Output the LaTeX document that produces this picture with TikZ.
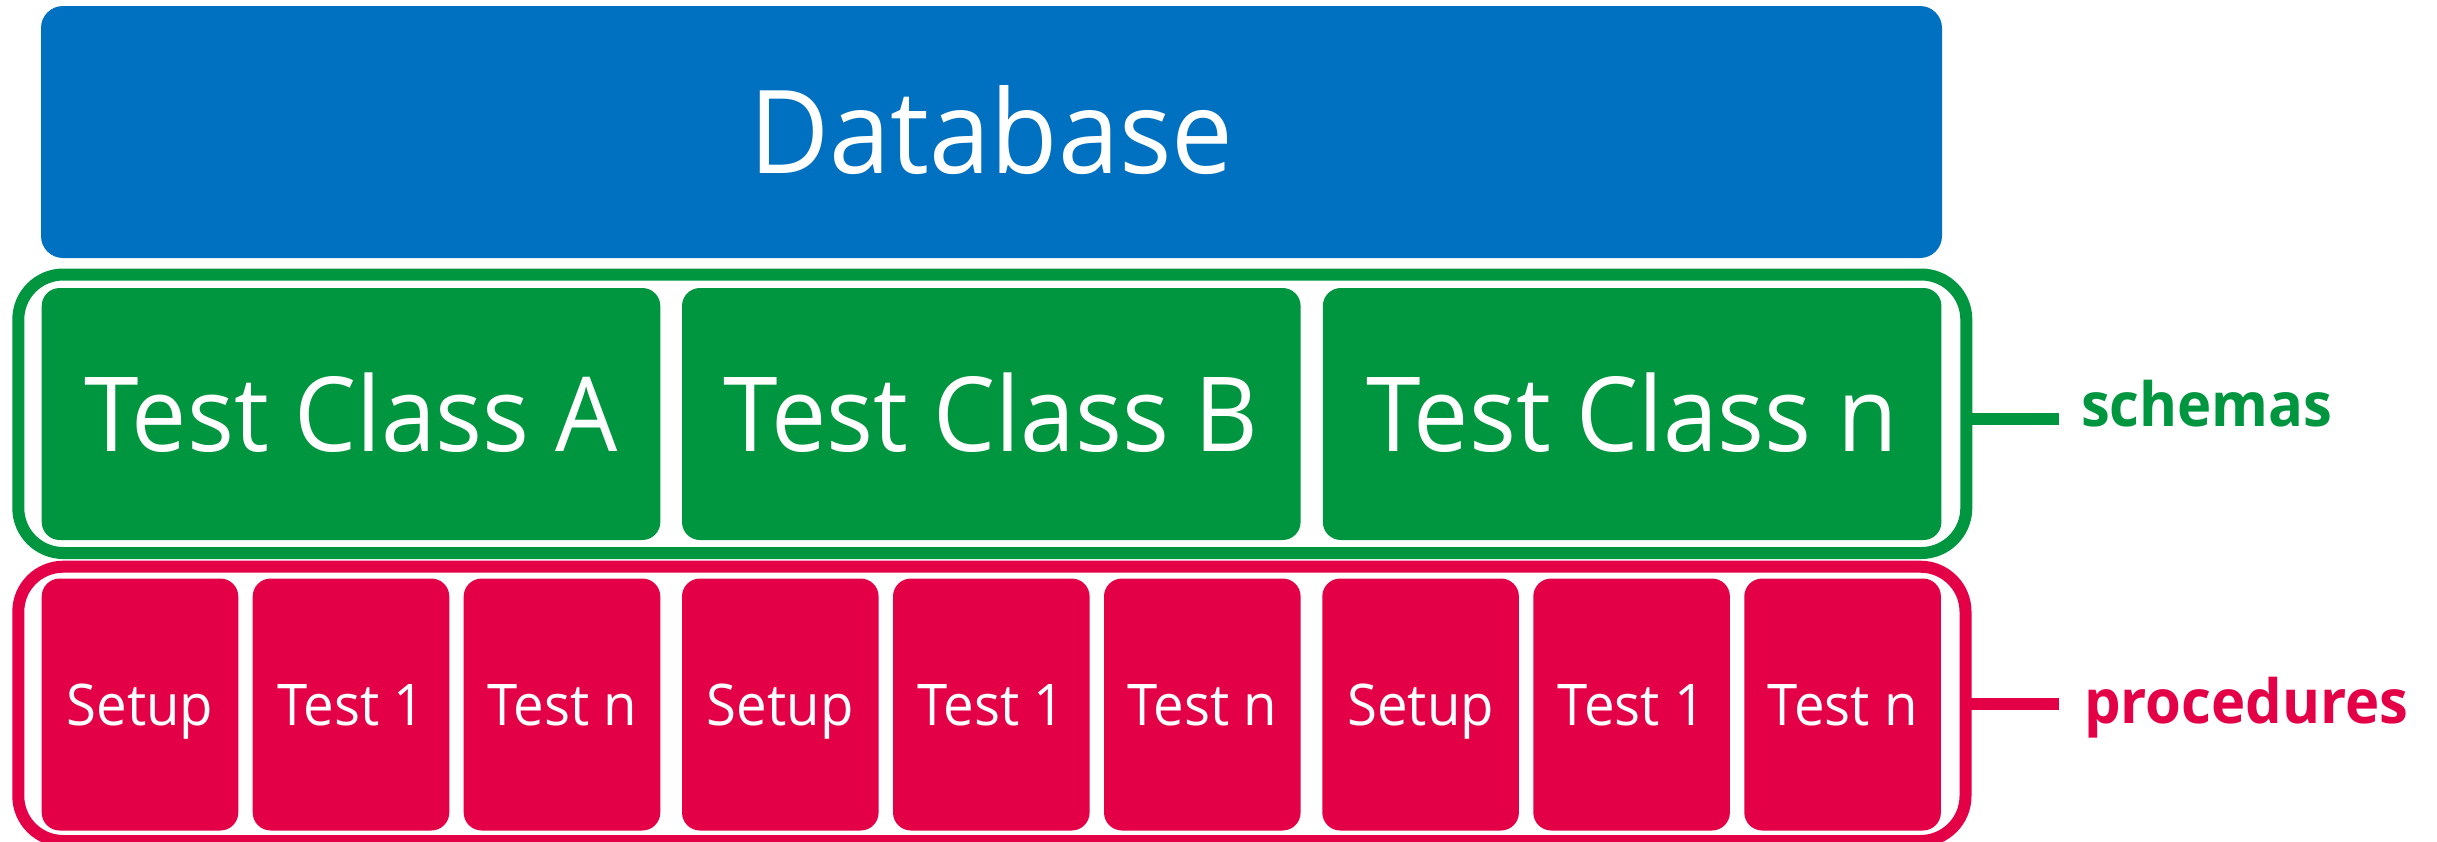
\documentclass[tikz,border=0pt]{standalone}
\usepackage{fontspec}
\setmainfont{Open Sans}[FakeStretch=0.95]
\definecolor{dbblue}{RGB}{0,112,192}
\definecolor{scgreen}{RGB}{0,150,64}
\definecolor{prred}{RGB}{227,0,70}
\def\px{0.5pt}
\tikzset{
  boxbase/.style={rounded corners=9pt, inner sep=0pt, outer sep=0pt, text=white, align=center, text depth=0pt},
  dbbox/.style={boxbase, fill=dbblue, rounded corners=11pt, minimum width=1901*\px, minimum height=252*\px,
    font=\fontsize{57.9pt}{60pt}\selectfont, text height=41.3pt},
  classbox/.style={boxbase, fill=scgreen, minimum width=618.6*\px, minimum height=252*\px,
    font=\fontsize{51.8pt}{54pt}\selectfont, text height=37pt},
  procbox/.style={boxbase, fill=prred, minimum width=196.6*\px, minimum height=252*\px,
    font=\fontsize{28.7pt}{30pt}\selectfont, text height=20.5pt},
  groupframe/.style={draw, line width=6pt, rounded corners=22.5pt, inner sep=0pt, outer sep=0pt},
  sidelabel/.style={font=\bfseries\fontsize{30.5pt}{32pt}\selectfont, anchor=base west, inner sep=0pt, outer sep=0pt},
  connline/.style={line width=6pt}
}
\begin{document}
\begin{tikzpicture}[x=0.5pt,y=-0.5pt]
\useasboundingbox (0,0) rectangle (2437,841);
% database
\node[dbbox] (db) at (991.5,132) {Database};
% frames
\node[groupframe, draw=scgreen, minimum width=1948*\px, minimum height=278.5*\px] (gframe) at (992.3,413.75) {};
\node[groupframe, draw=prred, minimum width=1947.2*\px, minimum height=274.3*\px] (rframe) at (991.9,703.85) {};
% test classes
\node[classbox] (ca) at (351,414) {Test Class A};
\node[classbox] (cb) at (991.3,414) {Test Class B};
\node[classbox] (cn) at (1632.15,414) {Test Class n};
% procedures
\node[procbox] (p1) at (140,704.5) {Setup};
\node[procbox] (p2) at (351,704.5) {Test 1};
\node[procbox] (p3) at (562,704.5) {Test n};
\node[procbox] (p4) at (780.3,704.5) {Setup};
\node[procbox] (p5) at (991.3,704.5) {Test 1};
\node[procbox] (p6) at (1202.3,704.5) {Test n};
\node[procbox] (p7) at (1420.6,704.5) {Setup};
\node[procbox] (p8) at (1631.6,704.5) {Test 1};
\node[procbox] (p9) at (1842.6,704.5) {Test n};
% side labels
\node[sidelabel, text=scgreen] (schemas) at (2081,426.7) {schemas};
\node[sidelabel, text=prred] (procs) at (2084,723.3) {procedures};
\coordinate (sline) at (2059,419);
\coordinate (pline) at (2059,704);
\draw[connline, scgreen] (gframe.east |- sline) -- (sline);
\draw[connline, prred] (rframe.east |- pline) -- (pline);
\end{tikzpicture}
\end{document}
